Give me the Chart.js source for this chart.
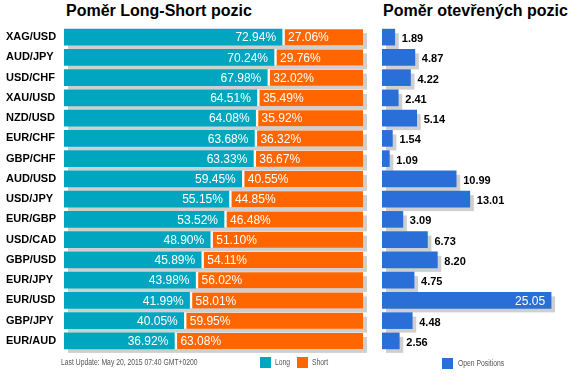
<!DOCTYPE html>
<html><head><meta charset="utf-8">
<script src="https://cdn.jsdelivr.net/npm/chart.js@4/dist/chart.umd.min.js"></script>
<style>
html,body{margin:0;padding:0;background:#fff;width:580px;height:389px;overflow:hidden;font-family:"Liberation Sans",Arial,sans-serif;}
#c1{position:absolute;left:0;top:0;}
#c2{position:absolute;left:372px;top:0;}
.title{position:absolute;top:2px;font-weight:bold;font-size:16px;color:#000;white-space:nowrap;}
.foot{position:absolute;top:357px;font-size:8.5px;color:#555;white-space:nowrap;transform:scaleX(0.8);transform-origin:0 0;}
.sw{position:absolute;width:11px;height:11px;}
</style></head><body>
<div class="title" style="left:66px">Poměr Long-Short pozic</div>
<div class="title" style="left:383px">Poměr otevřených pozic</div>
<canvas id="c1" width="372" height="389"></canvas>
<canvas id="c2" width="208" height="389"></canvas>
<div class="foot" style="left:61px">Last Update: May 20, 2015 07:40 GMT+0200</div>
<div class="sw" style="left:260px;top:357px;background:#00a6c0"></div>
<div class="foot" style="left:275px">Long</div>
<div class="sw" style="left:297px;top:357px;background:#ff6600"></div>
<div class="foot" style="left:312px">Short</div>
<div class="sw" style="left:442px;top:358px;background:#2a6fd8"></div>
<div class="foot" style="left:458px;top:358px">Open Positions</div>
<script>
const categories = ["XAG/USD","AUD/JPY","USD/CHF","XAU/USD","NZD/USD","EUR/CHF","GBP/CHF","AUD/USD","USD/JPY","EUR/GBP","USD/CAD","GBP/USD","EUR/JPY","EUR/USD","GBP/JPY","EUR/AUD"];
const longPct = [72.94,70.24,67.98,64.51,64.08,63.68,63.33,59.45,55.15,53.52,48.90,45.89,43.98,41.99,40.05,36.92];
const shortPct = [27.06,29.76,32.02,35.49,35.92,36.32,36.67,40.55,44.85,46.48,51.10,54.11,56.02,58.01,59.95,63.08];
const openPositions = [1.89,4.87,4.22,2.41,5.14,1.54,1.09,10.99,13.01,3.09,6.73,8.20,4.75,25.05,4.48,2.56];

const shadowPlugin = {
  id:'shadow',
  beforeDatasetsDraw(chart){
    const ctx = chart.ctx;
    const metas = chart.getSortedVisibleDatasetMetas();
    const n = chart.data.labels.length;
    ctx.save();
    ctx.fillStyle = '#cfcfcf';
    for(let i=0;i<n;i++){
      let l=Infinity,r=-Infinity,t=0,h=0;
      metas.forEach(m=>{
        const el=m.data[i]; const p=el.getProps(['x','base','y','height'],true);
        l=Math.min(l,p.base,p.x); r=Math.max(r,p.base,p.x); t=p.y-p.height/2; h=p.height;
      });
      ctx.fillRect(l+4,t+4,r-l,h);
    }
    ctx.restore();
  }
};

new Chart(document.getElementById('c1'),{
  type:'bar',
  data:{labels:categories,datasets:[
    {label:'Long',data:longPct,backgroundColor:'#00a6c0',borderWidth:0},
    {label:'Short',data:shortPct,backgroundColor:'#ff6600',borderColor:'#ffffff',borderWidth:{left:3,right:0,top:0,bottom:0},borderSkipped:false}
  ]},
  options:{
    indexAxis:'y',responsive:false,animation:false,
    layout:{padding:{left:6,right:9,top:27,bottom:38}},
    datasets:{bar:{barThickness:16,categoryPercentage:1}},
    scales:{
      x:{stacked:true,min:0,max:100,display:false},
      y:{stacked:true,grid:{display:false},border:{display:false},
         ticks:{crossAlign:'far',color:'#000',font:{family:'Liberation Sans, Arial',size:11,weight:'bold'},padding:0},
         afterFit(s){s.width=58;}}
    },
    plugins:{legend:{display:false},tooltip:{enabled:false}}
  },
  plugins:[shadowPlugin,{
    id:'lbl',
    afterDatasetsDraw(chart){
      const ctx=chart.ctx; ctx.save();
      ctx.font='12px "Liberation Sans", Arial'; ctx.fillStyle='#fff'; ctx.textBaseline='middle';
      const m0=chart.getDatasetMeta(0), m1=chart.getDatasetMeta(1);
      m0.data.forEach((el,i)=>{ctx.textAlign='right';ctx.fillText(longPct[i].toFixed(2)+'%',el.x-6,el.y+1);});
      m1.data.forEach((el,i)=>{ctx.textAlign='left';ctx.fillText(shortPct[i].toFixed(2)+'%',el.base+6,el.y+1);});
      ctx.restore();
    }
  }]
});

new Chart(document.getElementById('c2'),{
  type:'bar',
  data:{labels:categories,datasets:[
    {label:'Open Positions',data:openPositions,backgroundColor:'#2a6fd8',borderWidth:0}
  ]},
  options:{
    indexAxis:'y',responsive:false,animation:false,
    layout:{padding:{left:10,right:9,top:27,bottom:38}},
    datasets:{bar:{barThickness:16,categoryPercentage:1}},
    scales:{
      x:{min:0,max:28,display:false},
      y:{display:false}
    },
    plugins:{legend:{display:false},tooltip:{enabled:false}}
  },
  plugins:[shadowPlugin,{
    id:'lbl2',
    afterDatasetsDraw(chart){
      const ctx=chart.ctx; ctx.save();
      ctx.textBaseline='middle';
      const m=chart.getDatasetMeta(0);
      m.data.forEach((el,i)=>{
        const t=openPositions[i].toFixed(2);
        const w=el.x-el.base;
        if(w>120){ctx.font='12px "Liberation Sans", Arial';ctx.fillStyle='#fff';ctx.textAlign='right';ctx.fillText(t,el.x-6,el.y+1);}
        else{ctx.font='bold 11px "Liberation Sans", Arial';ctx.fillStyle='#000';ctx.textAlign='left';ctx.fillText(t,el.x+7,el.y+2);}
      });
      ctx.restore();
    }
  }]
});
</script>
</body></html>
